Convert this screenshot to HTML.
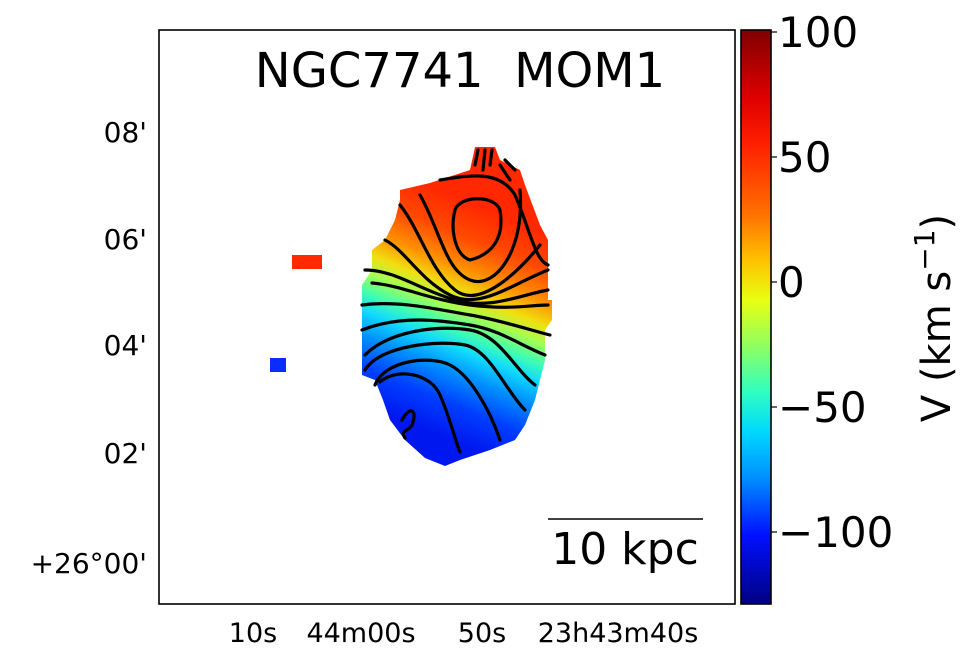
<!DOCTYPE html>
<html><head><meta charset="utf-8"><style>
html,body{margin:0;padding:0;background:#fff;}
svg{display:block;font-family:"DejaVu Sans","Liberation Sans",sans-serif;}
</style></head><body>
<svg width="980" height="665" viewBox="0 0 980 665" xmlns="http://www.w3.org/2000/svg">
<defs>
<linearGradient id="jet" x1="0" y1="0" x2="0" y2="1">
<stop offset="0" stop-color="#800000"/>
<stop offset="0.12" stop-color="#e00000"/>
<stop offset="0.2" stop-color="#ff2000"/>
<stop offset="0.32" stop-color="#ff7000"/>
<stop offset="0.4" stop-color="#ffc000"/>
<stop offset="0.47" stop-color="#e8ff10"/>
<stop offset="0.55" stop-color="#90ff60"/>
<stop offset="0.63" stop-color="#30ffc0"/>
<stop offset="0.7" stop-color="#00d8ff"/>
<stop offset="0.78" stop-color="#0090ff"/>
<stop offset="0.88" stop-color="#0010ff"/>
<stop offset="1" stop-color="#000080"/>
</linearGradient>
<linearGradient id="gal" gradientUnits="userSpaceOnUse" x1="500" y1="215" x2="415" y2="425">
<stop offset="0" stop-color="#ff2800"/>
<stop offset="0.15" stop-color="#ff4a00"/>
<stop offset="0.28" stop-color="#ff9000"/>
<stop offset="0.38" stop-color="#f0e010"/>
<stop offset="0.46" stop-color="#a0ff55"/>
<stop offset="0.54" stop-color="#40ffb0"/>
<stop offset="0.62" stop-color="#10d8ff"/>
<stop offset="0.72" stop-color="#0090ff"/>
<stop offset="0.85" stop-color="#0040ff"/>
<stop offset="1" stop-color="#0018f0"/>
</linearGradient>
</defs>
<rect x="159" y="30" width="576" height="574" fill="#fff" stroke="#000" stroke-width="1.6"/>
<text x="460" y="87" font-size="48" text-anchor="middle" xml:space="preserve">NGC7741  MOM1</text>
<!-- galaxy -->
<path d="M400,190 L430,183 L470,170 L475,147 L495,147 L500,160 L520,170 L525,185 L540,225 L548,240 L548,300 L552,300 L552,320 L545,330 L545,360 L535,400 L525,425 L515,440 L490,450 L460,460 L445,466 L425,458 L405,440 L390,420 L383,400 L375,380 L362,375 L362,285 L372,270 L372,250 L385,240 L395,220 L400,200 Z" fill="url(#gal)"/>
<rect x="270" y="358" width="16" height="14" fill="#0a2cff"/>
<rect x="292" y="255" width="30" height="14" fill="#ff2a00"/>
<g fill="none" stroke="#000" stroke-width="3.2" stroke-linecap="round">
<path d="M455,210 C460,195 495,195 500,210 C505,240 490,255 470,260 C455,255 450,230 455,210Z"/>
<path d="M372,283 C400,285 430,300 470,305 S530,305 548,305"/>
<path d="M365,270 C395,270 420,290 455,300 S520,295 548,290"/>
<path d="M385,240 C405,250 420,280 450,295 S510,285 548,270"/>
<path d="M400,205 C420,230 430,270 455,290 S520,270 540,245"/>
<path d="M420,195 C440,230 445,270 470,280 S525,250 520,190"/>
<path d="M440,180 C470,175 500,170 515,195 C530,230 535,260 548,265"/>
<path d="M362,305 C400,300 440,310 470,315 S530,330 550,335"/>
<path d="M362,330 C400,315 440,320 470,325 S520,345 545,355"/>
<path d="M365,355 C390,330 440,325 470,330 S515,370 535,385"/>
<path d="M365,370 C380,345 440,340 465,345 S505,390 525,410"/>
<path d="M375,385 C385,360 430,355 450,365 S490,410 500,440"/>
<path d="M380,382 C395,368 430,372 440,395 S455,440 460,452"/>
<path d="M402,420 C410,405 418,410 412,425 C408,432 400,430 405,438"/>
<path d="M475,165 L478,150 M483,170 L485,150 M490,165 L492,150 M500,165 L510,180 M505,160 L515,170"/>
</g>
<!-- scale bar -->
<line x1="548" y1="519" x2="703" y2="519" stroke="#000" stroke-width="1.6"/>
<text x="625" y="564" font-size="44" text-anchor="middle">10 kpc</text>
<!-- y ticks -->
<g font-size="28" text-anchor="end">
<text x="147" y="142">08'</text>
<text x="147" y="249">06'</text>
<text x="147" y="355">04'</text>
<text x="147" y="463">02'</text>
<text x="147" y="573">+26°00'</text>
</g>
<g font-size="27" text-anchor="middle">
<text x="253" y="642">10s</text>
<text x="361" y="642">44m00s</text>
<text x="482" y="642">50s</text>
<text x="618" y="642">23h43m40s</text>
</g>
<!-- colorbar -->
<rect x="741" y="30" width="30" height="574" fill="url(#jet)" stroke="#000" stroke-width="1.6"/>
<g stroke="#000" stroke-width="1.2">
<line x1="771" y1="32" x2="777" y2="32"/>
<line x1="771" y1="157" x2="777" y2="157"/>
<line x1="771" y1="282" x2="777" y2="282"/>
<line x1="771" y1="407" x2="777" y2="407"/>
<line x1="771" y1="532" x2="777" y2="532"/>
</g>
<g font-size="42">
<text x="778" y="47">100</text>
<text x="778" y="172">50</text>
<text x="778" y="297">0</text>
<text x="778" y="422">−50</text>
<text x="778" y="547">−100</text>
</g>
<text transform="translate(950,318) rotate(-90)" font-size="40" text-anchor="middle">V (km s<tspan font-size="28" dy="-16">−1</tspan><tspan dy="16">)</tspan></text>
</svg>
</body></html>
